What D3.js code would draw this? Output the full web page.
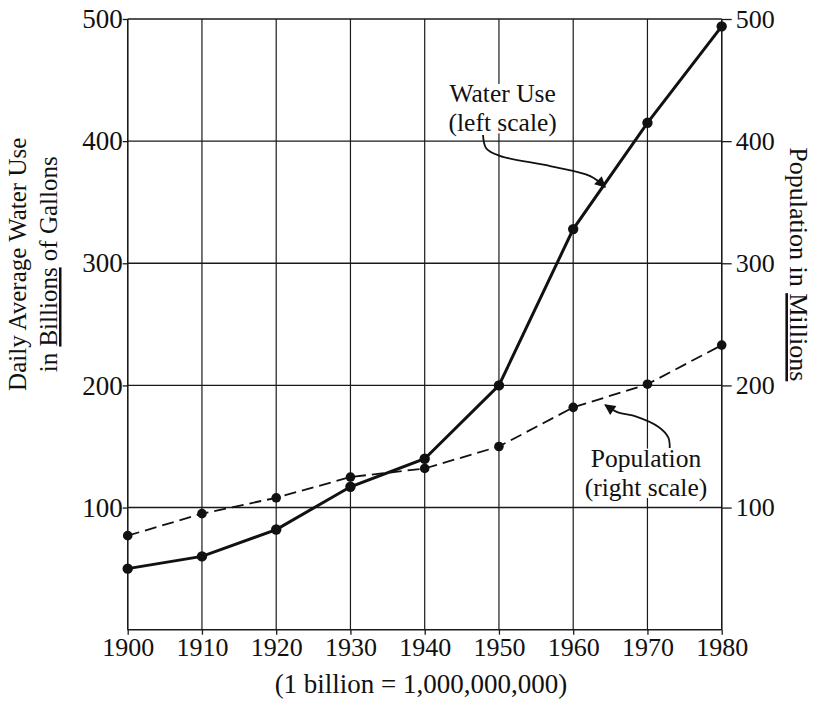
<!DOCTYPE html>
<html><head><meta charset="utf-8">
<script src="https://cdn.jsdelivr.net/npm/d3@7"></script>
<style>body{margin:0;background:#fff}</style>
</head><body>
<svg id="c" width="814" height="703"></svg>
<script>
// ---- data ----
const years = [1900,1910,1920,1930,1940,1950,1960,1970,1980];
const waterUse = [50,60,82,117,140,200,328,415,494];      // billions of gallons (left scale)
const population = [77,95,108,125,132,150,182,201,233];   // millions (right scale)
const yTicks = [100,200,300,400,500];
const xTicks = years;
const waterLabel = ["Water Use","(left scale)"];
const popLabel = ["Population","(right scale)"];
// annotation arrows in data units [year, value]
const waterArrow = [[1947.85,405],[1948.3,394],[1950.1,388],[1956.9,379.6],[1962.3,371.4],[1964.3,362.4]];
const popArrow = [[1973.0,148.8],[1972.8,157.5],[1971.5,166],[1968.5,174.5],[1966.0,178.0],[1964.3,184.0]];

const FONT = "'Liberation Serif','Times New Roman',serif";
const svg = d3.select("#c");
const x = d3.scaleLinear().domain([1900,1980]).range([127.7,721.7]);
const y = d3.scaleLinear().domain([0,500]).range([629.7,19]);

const g = svg.append("g");
// grid
g.selectAll(".hg").data(yTicks).join("line")
  .attr("x1",x(1900)).attr("x2",x(1980)).attr("y1",d=>y(d)).attr("y2",d=>y(d))
  .attr("stroke","#1a1a1a").attr("stroke-width",1.4);
g.selectAll(".vg").data(xTicks).join("line")
  .attr("x1",d=>x(d)).attr("x2",d=>x(d)).attr("y1",y(0)).attr("y2",y(500))
  .attr("stroke","#1a1a1a").attr("stroke-width",1.2);

// axes
const left = d3.axisLeft(y).tickValues(yTicks).tickSize(5).tickFormat(d3.format("d"));
const right = d3.axisRight(y).tickValues(yTicks).tickSize(10).tickFormat(d3.format("d"));
const bottom = d3.axisBottom(x).tickValues(xTicks).tickSize(5).tickFormat(d3.format("d"));
function styleAxis(sel, fs){
  sel.select(".domain").attr("stroke","#1a1a1a").attr("stroke-width",1.4);
  sel.selectAll(".tick line").attr("stroke","#1a1a1a").attr("stroke-width",1.3);
  sel.selectAll("text").attr("fill","#111").style("font-family",FONT).style("font-size",fs);
}
const ga = svg.append("g").attr("transform",`translate(${x(1900)},0)`).call(left);
ga.select(".domain").attr("d",`M0,${y(500)}V${y(0)}`);
styleAxis(ga,"27px"); ga.selectAll("text").attr("x",-5);
const gr = svg.append("g").attr("transform",`translate(${x(1980)},0)`).call(right);
gr.select(".domain").attr("d",`M0,${y(500)}V${y(0)}`);
styleAxis(gr,"26px"); gr.selectAll("text").attr("x",14);
const gb = svg.append("g").attr("transform",`translate(0,${y(0)})`).call(bottom);
styleAxis(gb,"26px"); gb.select(".domain").attr("d",`M${x(1900)},0H${x(1980)}`);
gb.selectAll("text").attr("y",8).attr("dy","0.71em");

// population dashed line
const line = d3.line().x((d,i)=>x(years[i])).y(d=>y(d));
svg.append("path").datum(population).attr("d",line)
  .attr("fill","none").attr("stroke","#111").attr("stroke-width",1.8).attr("stroke-dasharray","12,6");
svg.selectAll(".pd").data(population).join("circle")
  .attr("cx",(d,i)=>x(years[i])).attr("cy",d=>y(d)).attr("r",4.8).attr("fill","#111");
// water use line
svg.append("path").datum(waterUse).attr("d",line)
  .attr("fill","none").attr("stroke","#111").attr("stroke-width",3);
svg.selectAll(".wd").data(waterUse).join("circle")
  .attr("cx",(d,i)=>x(years[i])).attr("cy",d=>y(d)).attr("r",5.2).attr("fill","#111");

// arrow marker
svg.append("defs").append("marker").attr("id","ah")
  .attr("viewBox","0 0 10 10").attr("refX",9).attr("refY",5)
  .attr("markerWidth",15).attr("markerHeight",11).attr("markerUnits","userSpaceOnUse")
  .attr("orient","auto")
  .append("path").attr("d","M0,0L10,5L0,10Z").attr("fill","#111");
const aline = d3.line().x(d=>x(d[0])).y(d=>y(d[1])).curve(d3.curveCatmullRom);
[waterArrow,popArrow].forEach(a=>{
  svg.append("path").datum(a).attr("d",aline).attr("fill","none")
    .attr("stroke","#111").attr("stroke-width",1.8).attr("marker-end","url(#ah)");
});

// annotation labels with white background
function label(lines, cx, baselines){
  const gg = svg.append("g");
  const bg = gg.append("rect").attr("fill","#fff");
  const ts = lines.map((s,i)=>gg.append("text").attr("text-anchor","middle")
    .attr("x",cx).attr("y",baselines[i])
    .style("font-family",FONT).style("font-size","25.5px").attr("fill","#111").text(s));
  const b0 = ts[0].node().getBBox(), b1 = ts[1].node().getBBox();
  const x0 = Math.min(b0.x,b1.x), x1 = Math.max(b0.x+b0.width,b1.x+b1.width);
  bg.attr("x",x0-2).attr("y",b0.y+5).attr("width",x1-x0+4).attr("height",b1.y+b1.height-b0.y-9);
}
label(waterLabel, x(1950.5), [y(432), y(408)]);
label(popLabel, x(1969.8), [y(133.5), y(109.5)]);

// axis titles
const lt = svg.append("text").attr("transform",`translate(0,${y(300)+1}) rotate(-90)`)
  .attr("text-anchor","middle").style("font-family",FONT).style("font-size","25px").attr("fill","#111");
lt.append("tspan").attr("x",0).attr("y",26).text("Daily Average Water Use");
const l2 = lt.append("tspan").attr("x",0).attr("y",57);
l2.append("tspan").text("in ");
l2.append("tspan").style("text-decoration","underline").text("Billions");
l2.append("tspan").text(" of Gallons");

const rt = svg.append("text").attr("transform",`translate(790,${y(300)+1}) rotate(90)`)
  .attr("text-anchor","middle").style("font-family",FONT).style("font-size","26px").attr("fill","#111");
rt.append("tspan").text("Population in ");
rt.append("tspan").style("text-decoration","underline").text("Millions");

svg.append("text").attr("x",x(1939.5)).attr("y",693).attr("text-anchor","middle")
  .style("font-family",FONT).style("font-size","27px").attr("fill","#111")
  .text("(1 billion = 1,000,000,000)");
</script>
</body></html>
